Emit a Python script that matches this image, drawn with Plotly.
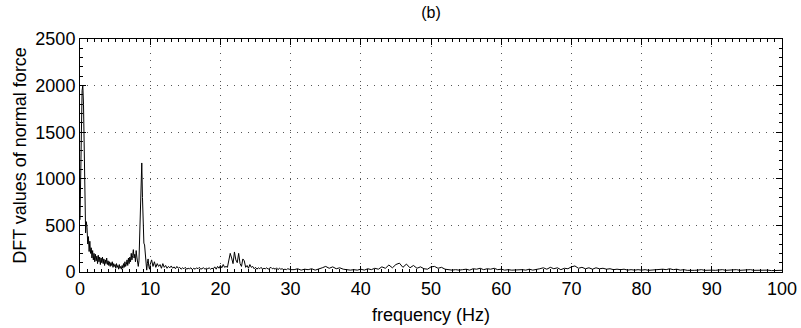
import numpy as np
import plotly.graph_objects as go

# Segment A: 0 - 10 Hz, 0.1 Hz spacing
amp_0_10 = [
    560, 900, 1500, 1950, 2000, 1800, 1100, 600, 420, 540,
    480, 300, 380, 220, 330, 200, 260, 150, 230, 130,
    200, 110, 190, 120, 170, 90, 180, 110, 160, 80,
    150, 100, 160, 90, 140, 70, 130, 90, 150, 80,
    120, 70, 110, 60, 100, 70, 110, 50, 90, 60,
    80, 40, 90, 50, 70, 30, 80, 40, 60, 30,
    70, 40, 90, 50, 110, 60, 80, 130, 70, 150,
    90, 160, 110, 200, 130, 180, 240, 150, 190, 110,
    230, 160, 90, 60, 120, 350, 500, 900, 1170, 800,
    400, 310, 290, 150, 60, 20, 90, 140, 60, 30,
    80,
]
freq_0_10 = np.round(np.arange(len(amp_0_10)) * 0.1, 2)

# Segment B: 10.2 - 30 Hz, 0.2 Hz spacing
amp_10_30 = [
    130, 60, 110, 50, 90, 60, 80, 40, 90, 50,
    70, 40, 60, 45, 65, 40, 55, 35, 60, 40,
    50, 30, 45, 35, 50, 30, 40, 35, 45, 25,
    40, 30, 45, 35, 50, 30, 40, 45, 30, 40,
    35, 45, 30, 40, 35, 55, 30, 60, 40, 70,
    45, 80, 50, 60, 50, 120, 200, 150, 90, 215,
    130, 100, 200, 90, 60, 140, 120, 50, 70, 40,
    80, 50, 60, 35, 50, 30, 45, 35, 50, 30,
    40, 35, 45, 30, 40, 50, 35, 40, 30, 45,
    25, 40, 30, 35, 25, 30, 25, 35, 30, 25,
]
freq_10_30 = np.round(10.2 + np.arange(len(amp_10_30)) * 0.2, 2)

# Segment C: 30.5 - 100 Hz, 0.5 Hz spacing
amp_30_100 = [
    25, 35, 20, 30, 25, 35, 20, 30, 45, 60, 40, 55, 35, 45, 30, 25, 20, 25, 20, 30,
    20, 35, 25, 40, 30, 55, 40, 75, 45, 80, 95, 50, 85, 45, 70, 40, 55, 35, 30, 55,
    60, 40, 50, 30, 25, 20, 25, 20, 25, 30, 20, 35, 30, 40, 25, 35, 30, 40, 25, 30,
    20, 25, 20, 22, 18, 25, 20, 30, 20, 25, 35, 45, 30, 50, 35, 45, 25, 40, 35, 55,
    65, 40, 50, 35, 45, 30, 45, 35, 40, 30, 35, 25, 30, 25, 30, 20, 25, 20, 25, 20,
    25, 18, 22, 18, 25, 30, 25, 35, 25, 30, 20, 25, 18, 22, 18, 20, 25, 18, 22, 20,
    18, 22, 25, 18, 22, 20, 25, 18, 22, 20, 25, 18, 20, 22, 18, 20, 15, 18, 15, 18,
]
freq_30_100 = np.round(30.5 + np.arange(len(amp_30_100)) * 0.5, 2)

freq = np.concatenate([freq_0_10, freq_10_30, freq_30_100])
amp = np.concatenate([amp_0_10, amp_10_30, amp_30_100])

x_ticks = [0, 10, 20, 30, 40, 50, 60, 70, 80, 90, 100]
y_ticks = [0, 500, 1000, 1500, 2000, 2500]

FONT = "Liberation Sans, Arial, Helvetica, sans-serif"

fig = go.Figure()
fig.add_trace(go.Scatter(x=freq, y=amp, mode="lines",
                         line=dict(color="black", width=1), showlegend=False,
                         hoverinfo="skip"))

axis_common = dict(
    showline=True, linecolor="black", linewidth=1, mirror="ticks",
    ticks="inside", ticklen=6, tickcolor="black", tickwidth=1,
    showgrid=True, gridcolor="#555555", gridwidth=1, griddash="1px,6px",
    zeroline=False, automargin=False,
    tickfont=dict(family=FONT, size=18, color="black"),
)

fig.update_xaxes(
    range=[0, 100], tickvals=x_ticks, ticktext=[str(v) for v in x_ticks],
    title=dict(text="frequency (Hz)", font=dict(family=FONT, size=18, color="black"), standoff=10),
    minor=dict(ticks="inside", ticklen=3, tickcolor="black", dtick=1, showgrid=False),
    **axis_common,
)
fig.update_yaxes(
    range=[0, 2500], tickvals=y_ticks, ticktext=[str(v) for v in y_ticks],
    title=dict(text="DFT values of normal force", font=dict(family=FONT, size=18, color="black"), standoff=4),
    minor=dict(ticks="inside", ticklen=3, tickcolor="black", dtick=100, showgrid=False),
    **axis_common,
)

fig.update_layout(
    width=801, height=328,
    margin=dict(l=80, r=19, t=39, b=56),
    paper_bgcolor="white", plot_bgcolor="white",
    title=dict(text="(b)", x=0.538, xanchor="center", y=0.963, yanchor="middle",
               font=dict(family=FONT, size=16, color="black")),
)

fig.write_html("out.html")
